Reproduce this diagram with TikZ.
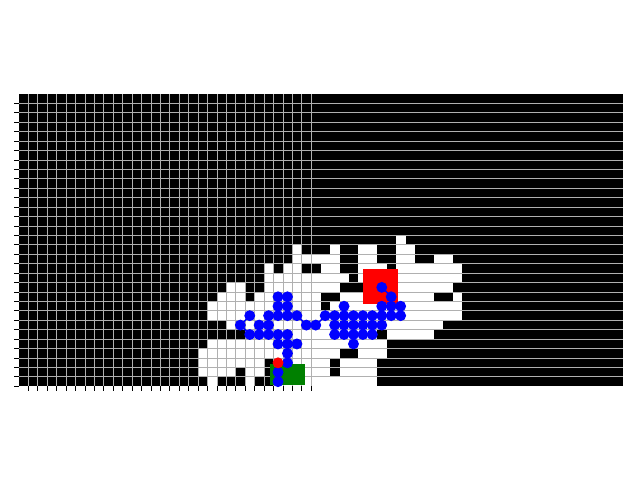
\documentclass[tikz,border=0pt]{standalone}
\begin{document}
\begin{tikzpicture}[x=7.0725pt,y=7.0725pt,
  cellfill/.style={fill=white,draw=none},
  gridline/.style={draw=black!31,line width=1pt},
  tickline/.style={draw=black,line width=0.75pt},
  visited/.style={fill=blue,draw=none},
  pathline/.style={draw=blue,line width=1.1pt}]
% page: 640x480 px, origin at the axes' lower left (19,386.4), 1 unit = 9.43 px
\useasboundingbox[fill=white] (-2.0148,-9.926) rectangle (65.854,40.975);
\fill[black] (0,0) rectangle (64,31);
\foreach \r/\a/\b in {0/20/20,0/24/24,0/27/37,
 1/19/22,1/24/25,1/27/32,1/34/37,
 2/19/25,2/27/32,2/34/37,
 3/19/33,3/36/38,
 4/20/38,
 5/24/37,5/39/43,
 6/22/44,
 7/20/46,
 8/20/31,8/33/46,
 9/21/23,9/25/31,9/34/43,9/46/46,
 10/22/23,10/26/33,10/37/45,
 11/26/34,11/36/46,
 12/26/26,12/28/29,12/32/33,12/36/38,12/40/46,
 13/29/33,13/36/37,13/40/41,13/44/45,
 14/29/29,14/33/33,14/36/37,14/40/41,
 15/40/40}
  \fill[cellfill] (\a,\r) rectangle (\b+1,\r+1);
% grid and ticks are snapped to whole device pixels
\foreach \c in {1,...,31} {
  \pgfmathsetmacro\xc{(floor(19+9.43*\c)+0.5-19)/9.43}
  \draw[gridline] (\xc,0) -- (\xc,31);
  \draw[tickline] (\xc,0) -- ++(0,-0.52);
}
\foreach \r in {0,...,30} {
  \pgfmathsetmacro\yc{(386.4-floor(386.4-9.43*\r)-0.5)/9.43}
  \ifnum\r>0 \draw[gridline] (0,\yc) -- (64,\yc);\fi
  \draw[tickline] (0,\yc) -- ++(-0.52,0);
}
\fill[green!50!black] (26.6,0.1) rectangle (30.3,2.4);
\fill[red] (36.5,8.75) rectangle (40.2,12.45);
\draw[pathline] (23.5,6.5) -- (24.5,7.5) (23.5,6.5) -- (24.5,5.5)
  (29.5,7.5) -- (30.5,6.5) (31.5,6.5) -- (32.5,7.5) (38.5,10.5) -- (39.5,9.5);
\foreach \c/\r in {27/9,28/9,27/8,28/8,
 24/7,26/7,27/7,28/7,29/7,32/7,33/7,34/7,35/7,36/7,37/7,38/7,39/7,40/7,
 23/6,25/6,26/6,30/6,31/6,33/6,34/6,35/6,36/6,37/6,38/6,
 24/5,25/5,26/5,27/5,28/5,33/5,34/5,35/5,36/5,37/5,
 27/4,28/4,29/4,35/4,28/3,28/2,27/1,27/0,
 38/10,39/9,34/8,38/8,39/8,40/8}
  \fill[visited] (\c+0.47,\r+0.5) circle (0.58);
\fill[red] (27.47,2.5) circle (0.58);
\end{tikzpicture}
\end{document}
